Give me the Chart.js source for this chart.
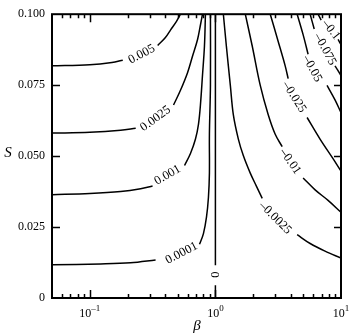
<!DOCTYPE html>
<html>
<head>
<meta charset="utf-8">
<script src="https://cdn.jsdelivr.net/npm/chart.js@4.4.1/dist/chart.umd.min.js"></script>
<style>
	html, body { margin: 0; padding: 0; background: #fff; }
</style>
</head>
<body>
<canvas id="chart-contour" width="350" height="336"></canvas>
<script>
//--------------------------------------------
// Data: contour lines as [beta, S] pairs,
// each level split in two where its label sits
//--------------------------------------------
const LEVELS = ["0.005", "0.0025", "0.001", "0.0001", "0", "–0.0025", "–0.01", "–0.025", "–0.05", "–0.075", "–0.1"];

const C_0005 = [
	[[0.05, 0.0818], [0.1, 0.0822], [0.15, 0.083], [0.183, 0.0838]],
	[[0.347, 0.089], [0.4, 0.0918], [0.44, 0.0945], [0.49, 0.0975], [0.527, 0.1]],
];
const C_00025 = [
	[[0.05, 0.0581], [0.1, 0.0584], [0.176, 0.0591], [0.232, 0.0598]],
	[[0.464, 0.068], [0.527, 0.0732], [0.6, 0.0794], [0.657, 0.0852], [0.72, 0.091], [0.76, 0.0962], [0.789, 0.1]],
];
const C_0001 = [
	[[0.05, 0.0364], [0.1, 0.0368], [0.176, 0.0375], [0.254, 0.0385], [0.316, 0.0395]],
	[[0.568, 0.0467], [0.633, 0.0509], [0.694, 0.056], [0.733, 0.0612], [0.76, 0.068], [0.789, 0.0784], [0.818, 0.0887], [0.833, 0.1]],
];
const C_00001 = [
	[[0.05, 0.0117], [0.122, 0.012], [0.211, 0.0124], [0.334, 0.0134]],
	[[0.747, 0.0189], [0.803, 0.0227], [0.849, 0.0285], [0.88, 0.0354], [0.896, 0.044], [0.896, 0.0577], [0.913, 0.0749], [0.913, 0.1]],
];
const C_0 = [
	[[1, 0], [1, 0.0045]],
	[[1, 0.0115], [1, 0.1]],
];
const C_M00025 = [
	[[1.157, 0.1], [1.223, 0.0887], [1.315, 0.0749], [1.389, 0.0646], [1.523, 0.056], [1.668, 0.0502], [1.895, 0.044], [2.115, 0.0395], [2.36, 0.0351]],
	[[4.477, 0.0223], [5.68, 0.0192], [7.46, 0.0165], [10, 0.0141]],
];
const C_M001 = [
	[[1.73, 0.1], [1.966, 0.0887], [2.276, 0.0749], [2.634, 0.0646], [2.994, 0.0577], [3.403, 0.0533]],
	[[4.992, 0.0423], [6.22, 0.0381], [7.89, 0.0344], [10, 0.0302]],
];
const C_M0025 = [
	[[2.733, 0.1], [3.162, 0.0904], [3.594, 0.0818], [3.796, 0.0773]],
	[[5.37, 0.0636], [6.81, 0.056], [8.64, 0.0491], [10, 0.0447]],
];
const C_M005 = [
	[[4.477, 0.1], [4.992, 0.0928], [5.47, 0.0859]],
	[[7.74, 0.0749], [8.96, 0.0698], [10, 0.0653]],
];
const C_M0075 = [
	[[5.68, 0.1], [6.12, 0.0948]],
	[[8.96, 0.0818], [10, 0.0784]],
];
const C_M01 = [
	[[6.57, 0.1], [6.95, 0.0979]],
	[[9.48, 0.0911], [10, 0.0893]],
];
const CONTOURS = [C_0005, C_00025, C_0001, C_00001, C_0, C_M00025, C_M001, C_M0025, C_M005, C_M0075, C_M01];

// where each level's label sits, in data coordinates
const LABEL_BETA = [0.259, 0.334, 0.416, 0.537, 1, 2.994, 3.94, 4.24, 5.89, 7.46, 8.33];
const LABEL_S = [0.0859, 0.0632, 0.0433, 0.0158, 0.0082, 0.0282, 0.0481, 0.0708, 0.0808, 0.0876, 0.0945];

const Y_TICKS = [0, 0.025, 0.05, 0.075, 0.1];
const X_DECADES = [-1, 0, 1];

//--------------------------------------------
// Styling
//--------------------------------------------
const SERIF = "'Liberation Serif', 'Times New Roman', serif";
const LABEL_ANGLE = [-28, -36, -30, -27, -90, 45, 55, 58, 62, 62, 52];

const datasets = [];
CONTOURS.forEach((segments) => {
	segments.forEach((seg) => {
		datasets.push({
			data: seg.map((p) => ({ x: p[0], y: p[1] })),
			showLine: true,
			borderColor: "#000",
			borderWidth: 1.5,
			pointRadius: 0,
			tension: 0.35,
			fill: false,
		});
	});
});

const frameAndLabels = {
	id: "frameAndLabels",
	afterDatasetsDraw(chart) {
		const { ctx, chartArea: a, scales } = chart;
		const x = scales.x;
		const y = scales.y;
		ctx.save();
		ctx.strokeStyle = "#000";
		ctx.fillStyle = "#000";

		// frame
		ctx.lineWidth = 2;
		ctx.strokeRect(a.left, a.top, a.right - a.left, a.bottom - a.top);

		// inward ticks, x (log)
		ctx.lineWidth = 1.5;
		for (let d = -2; d <= 1; d++) {
			for (let m = 1; m <= 9; m++) {
				const v = m * Math.pow(10, d);
				if (v <= 0.05 || v >= 10) continue;
				const px = Math.round(x.getPixelForValue(v)) + 0.5;
				const len = m === 1 ? 8 : 4;
				ctx.beginPath();
				ctx.moveTo(px, a.bottom);
				ctx.lineTo(px, a.bottom - len);
				ctx.moveTo(px, a.top);
				ctx.lineTo(px, a.top + len);
				ctx.stroke();
			}
		}

		// inward ticks, y
		Y_TICKS.forEach((v) => {
			if (v === 0 || v === 0.1) return;
			const py = Math.round(y.getPixelForValue(v)) + 0.5;
			ctx.beginPath();
			ctx.moveTo(a.left, py);
			ctx.lineTo(a.left + 8, py);
			ctx.moveTo(a.right, py);
			ctx.lineTo(a.right - 7, py);
			ctx.stroke();
		});

		// x tick labels 10^n
		X_DECADES.forEach((e) => {
			const px = x.getPixelForValue(Math.pow(10, e));
			const exp = e < 0 ? "–" + Math.abs(e) : String(e);
			ctx.font = `12px ${SERIF}`;
			const wBase = ctx.measureText("10").width;
			ctx.font = `9px ${SERIF}`;
			const wExp = ctx.measureText(exp).width;
			const left = px - (wBase + wExp) / 2;
			ctx.textAlign = "left";
			ctx.textBaseline = "alphabetic";
			ctx.font = `12px ${SERIF}`;
			ctx.fillText("10", left, 317);
			ctx.font = `9px ${SERIF}`;
			ctx.fillText(exp, left + wBase, 311);
		});

		// axis titles
		ctx.textAlign = "center";
		ctx.textBaseline = "middle";
		ctx.font = `italic 15px ${SERIF}`;
		ctx.fillText("S", 8, 153);
		ctx.fillText("β", 197, 326);

		// contour labels
		ctx.font = `12.5px ${SERIF}`;
		LEVELS.forEach((txt, i) => {
			const px = x.getPixelForValue(LABEL_BETA[i]);
			const py = y.getPixelForValue(LABEL_S[i]);
			ctx.save();
			ctx.translate(px, py);
			ctx.rotate((LABEL_ANGLE[i] * Math.PI) / 180);
			ctx.fillText(txt, 0, 0);
			ctx.restore();
		});

		ctx.restore();
	},
};

const CHART_CONFIG = {
	type: "scatter",
	data: { datasets },
	options: {
		responsive: false,
		animation: false,
		layout: {
			padding: { top: 7, right: 9, left: 0, bottom: 0 },
		},
		scales: {
			x: {
				type: "logarithmic",
				min: 0.05,
				max: 10,
				grid: { display: false },
				border: { display: false },
				ticks: { display: false },
				afterFit: (s) => { s.height = 38; },
			},
			y: {
				min: 0,
				max: 0.1,
				grid: { display: false, drawTicks: false },
				border: { display: false },
				afterBuildTicks: (s) => { s.ticks = Y_TICKS.map((v) => ({ value: v })); },
				ticks: {
					color: "#000",
					padding: 7,
					font: { family: SERIF, size: 12 },
					callback: (v) => (v === 0 ? "0" : v.toFixed(3)),
				},
				afterFit: (s) => { s.width = 52; },
			},
		},
		plugins: {
			legend: { display: false },
			title: { display: false },
			tooltip: { enabled: false },
		},
	},
	plugins: [frameAndLabels],
};

new Chart(document.getElementById("chart-contour"), CHART_CONFIG);
</script>
</body>
</html>
